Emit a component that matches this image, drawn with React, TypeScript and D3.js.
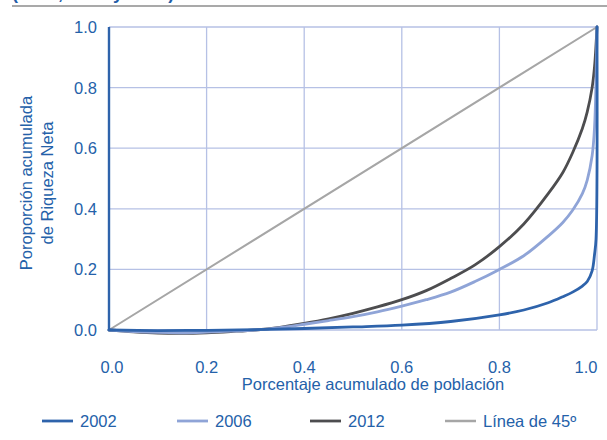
import React from 'react';
import * as d3 from 'd3';

// cumulative population share (x) and cumulative net wealth share (y)
const x2002 = [0, 0.1, 0.2, 0.3, 0.4, 0.5, 0.6, 0.7, 0.8, 0.85, 0.9, 0.93, 0.95, 0.97, 0.98, 0.99, 0.995, 0.998, 1.0];
const y2002 = [0, -0.002, -0.001, 0.001, 0.005, 0.01, 0.016, 0.028, 0.05, 0.066, 0.09, 0.11, 0.125, 0.145, 0.16, 0.195, 0.25, 0.3, 1.0];

const x2006 = [0, 0.05, 0.1, 0.15, 0.2, 0.25, 0.3, 0.35, 0.4, 0.45, 0.5, 0.55, 0.6, 0.65, 0.7, 0.75, 0.8, 0.85, 0.9, 0.93, 0.95, 0.97, 0.98, 0.99, 0.995, 1.0];
const y2006 = [0, -0.005, -0.008, -0.009, -0.007, -0.004, 0, 0.008, 0.019, 0.031, 0.044, 0.06, 0.079, 0.1, 0.125, 0.16, 0.2, 0.245, 0.31, 0.355, 0.395, 0.45, 0.495, 0.575, 0.67, 1.0];

const x2012 = [0, 0.05, 0.1, 0.15, 0.2, 0.25, 0.3, 0.35, 0.4, 0.45, 0.5, 0.55, 0.6, 0.65, 0.7, 0.75, 0.8, 0.85, 0.9, 0.93, 0.95, 0.97, 0.98, 0.99, 0.995, 1.0];
const y2012 = [0, -0.006, -0.01, -0.011, -0.009, -0.005, 0, 0.009, 0.022, 0.037, 0.055, 0.076, 0.1, 0.13, 0.17, 0.215, 0.275, 0.35, 0.45, 0.52, 0.585, 0.665, 0.72, 0.8, 0.87, 1.0];

const xLine45 = [0, 1];
const yLine45 = [0, 1];

const ticks = [0, 0.2, 0.4, 0.6, 0.8, 1.0];
const legendLabels = ['2002', '2006', '2012', 'Línea de 45º'];

const W = 607;
const H = 440;
const BLUE_TEXT = '#2461a9';
const FONT = '"Liberation Sans", Arial, sans-serif';

const App: React.FC = () => {
  const x = d3.scaleLinear().domain([0, 1]).range([109, 597]);
  const y = d3.scaleLinear().domain([0, 1]).range([330, 27]);

  const line = d3
    .line<[number, number]>()
    .x(d => x(d[0]))
    .y(d => y(d[1]))
    .curve(d3.curveCatmullRom.alpha(0.5));

  const series = [
    { key: '2002', xs: x2002, ys: y2002, color: '#2e63ab', width: 2.8 },
    { key: '2006', xs: x2006, ys: y2006, color: '#8fa4d7', width: 2.8 },
    { key: '2012', xs: x2012, ys: y2012, color: '#4d4d4f', width: 2.8 },
    { key: 'Línea de 45º', xs: xLine45, ys: yLine45, color: '#a6a6a6', width: 2 },
  ];
  // draw order: 45 line, 2012, 2006, 2002 on top
  const drawOrder = [3, 2, 1, 0];

  const legendLineX = [42, 177, 310, 445];

  return (
    <svg width={W} height={H} style={{ position: 'absolute', left: 0, top: 0, fontFamily: FONT }}>
      <rect width={W} height={H} fill="#fff" />

      {/* cut-off title above the chart */}
      <text x={12} y={-1} fontSize={18} fontWeight="bold" fill="#1f5ea8">
        (2002, 2006 y 2012)
      </text>
      <line x1={12} x2={W} y1={6} y2={6} stroke="#8c8c8c" strokeWidth={1.5} />

      {/* grid */}
      {ticks.map(t => (
        <line key={'gx' + t} x1={x(t)} x2={x(t)} y1={y(1)} y2={y(0)} stroke="#b6c1e5" strokeWidth={1.3} />
      ))}
      {ticks.map(t => (
        <line key={'gy' + t} x1={x(0)} x2={x(1)} y1={y(t)} y2={y(t)} stroke="#b6c1e5" strokeWidth={1.3} />
      ))}

      {/* series */}
      {drawOrder.map(i => {
        const s = series[i];
        const pts = s.xs.map((v, j) => [v, s.ys[j]] as [number, number]);
        return (
          <path
            key={s.key}
            d={line(pts) || ''}
            fill="none"
            stroke={s.color}
            strokeWidth={s.width}
            strokeLinejoin="round"
            strokeLinecap="round"
          />
        );
      })}

      {/* left axis */}
      <line x1={x(0)} x2={x(0)} y1={y(1)} y2={y(0) + 1} stroke="#2e63ab" strokeWidth={2.4} />

      {/* y tick labels */}
      {ticks.map(t => (
        <text
          key={'ty' + t}
          x={97}
          y={y(t)}
          dy="0.36em"
          textAnchor="end"
          fontSize={16.5}
          fill={BLUE_TEXT}
        >
          {t.toFixed(1)}
        </text>
      ))}

      {/* x tick labels */}
      {ticks.map((t, i) => (
        <text
          key={'tx' + t}
          x={x(t)}
          dx={i === ticks.length - 1 ? -11 : i === 0 ? 3 : 0}
          y={373}
          textAnchor="middle"
          fontSize={16.5}
          fill={BLUE_TEXT}
        >
          {t.toFixed(1)}
        </text>
      ))}

      {/* axis titles */}
      <text x={373} y={390} textAnchor="middle" fontSize={16.5} fill={BLUE_TEXT}>
        Porcentaje acumulado de población
      </text>
      <g transform="translate(0,183) rotate(-90)">
        <text x={0} y={32} textAnchor="middle" fontSize={16.5} fill={BLUE_TEXT}>
          Poroporción acumulada
        </text>
        <text x={0} y={53} textAnchor="middle" fontSize={16.5} fill={BLUE_TEXT}>
          de Riqueza Neta
        </text>
      </g>

      {/* legend */}
      {series.map((s, i) => (
        <g key={'lg' + s.key}>
          <line
            x1={legendLineX[i]}
            x2={legendLineX[i] + 31}
            y1={421}
            y2={421}
            stroke={s.color}
            strokeWidth={s.key === 'Línea de 45º' ? 2.5 : 2.8}
          />
          <text x={legendLineX[i] + 38} y={427} fontSize={16.5} fill={BLUE_TEXT}>
            {legendLabels[i]}
          </text>
        </g>
      ))}
    </svg>
  );
};

export default App;
